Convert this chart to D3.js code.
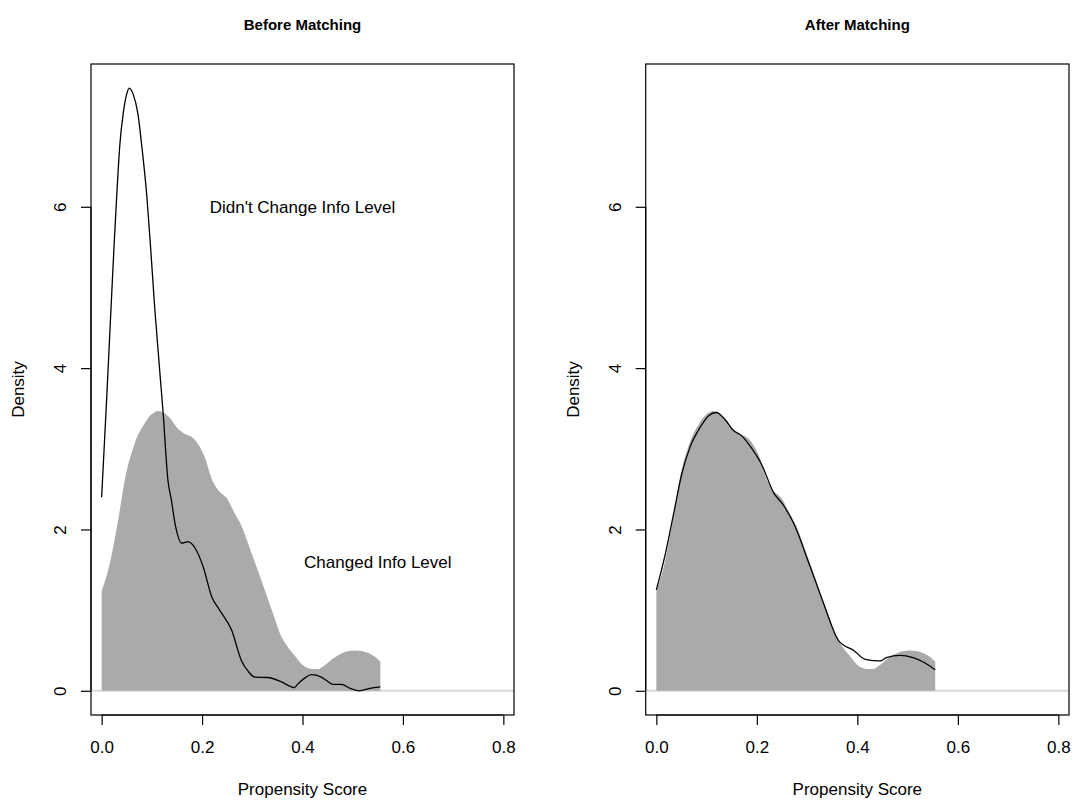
<!DOCTYPE html>
<html>
<head>
<meta charset="utf-8">
<script src="https://cdn.jsdelivr.net/npm/d3@7"></script>
<style>
  body { margin: 0; background: #fff; }
  svg text { font-family: "Liberation Sans", Arial, sans-serif; fill: #000; }
</style>
</head>
<body>
<svg id="chart" width="1075" height="802"></svg>
<script>
// Density of propensity score, treated group (same in both panels)
var treatedDensity = [
  [0.000, 1.23], [0.017, 1.60], [0.033, 2.12], [0.046, 2.61], [0.066, 3.07],
  [0.086, 3.32], [0.100, 3.43], [0.113, 3.47], [0.125, 3.44], [0.139, 3.36],
  [0.150, 3.26], [0.162, 3.20], [0.186, 3.11], [0.205, 2.90], [0.219, 2.63],
  [0.232, 2.49], [0.250, 2.38], [0.265, 2.20], [0.278, 2.05], [0.300, 1.68],
  [0.318, 1.37], [0.340, 0.98], [0.358, 0.67], [0.370, 0.55], [0.384, 0.44],
  [0.404, 0.30], [0.420, 0.27], [0.431, 0.27], [0.445, 0.32], [0.461, 0.40],
  [0.480, 0.47], [0.504, 0.50], [0.520, 0.49], [0.534, 0.46], [0.545, 0.42],
  [0.555, 0.36]
];

// Control group before matching
var controlBefore = [
  [0.000, 2.40], [0.010, 3.62], [0.0185, 4.72], [0.025, 5.55], [0.030, 6.13],
  [0.036, 6.75], [0.043, 7.16], [0.050, 7.40], [0.055, 7.47], [0.063, 7.39],
  [0.072, 7.16], [0.080, 6.75], [0.090, 6.13], [0.098, 5.45], [0.106, 4.72],
  [0.1225, 3.44], [0.132, 2.61], [0.139, 2.36], [0.146, 2.08], [0.160, 1.83],
  [0.166, 1.84], [0.172, 1.85], [0.186, 1.77], [0.202, 1.54], [0.219, 1.17],
  [0.235, 1.00], [0.259, 0.75], [0.278, 0.38], [0.292, 0.24], [0.305, 0.17],
  [0.331, 0.165], [0.358, 0.11], [0.378, 0.05], [0.384, 0.04], [0.390, 0.08],
  [0.405, 0.16], [0.4175, 0.20], [0.4375, 0.17], [0.447, 0.13], [0.4605, 0.08],
  [0.477, 0.08], [0.495, 0.03], [0.5135, 0.00], [0.534, 0.03], [0.555, 0.05]
];

// Control group after matching
var controlAfter = [
  [0.000, 1.25], [0.018, 1.70], [0.0345, 2.20], [0.051, 2.70], [0.0676, 3.03],
  [0.0875, 3.27], [0.104, 3.41], [0.119, 3.45], [0.137, 3.36], [0.153, 3.23],
  [0.170, 3.16], [0.187, 3.03], [0.210, 2.80], [0.233, 2.46], [0.253, 2.30],
  [0.273, 2.08], [0.306, 1.54], [0.333, 1.08], [0.363, 0.62], [0.393, 0.50],
  [0.4155, 0.39], [0.445, 0.37], [0.458, 0.41], [0.485, 0.44], [0.511, 0.41],
  [0.530, 0.36], [0.555, 0.26]
];

var xTicks = [0.0, 0.2, 0.4, 0.6, 0.8];
var yTicks = [0, 2, 4, 6];
var panelTitles = ["Before Matching", "After Matching"];
var xLabel = "Propensity Score";
var yLabel = "Density";
var panelLabels = [
  [{ x: 0.40, y: 6.0, text: "Didn't Change Info Level" },
   { x: 0.55, y: 1.6, text: "Changed Info Level" }],
  []
];

var svg = d3.select("#chart");
var panels = [
  { left: 91, right: 514, control: controlBefore },
  { left: 645.7, right: 1069, control: controlAfter }
];
var plotTop = 64, plotBottom = 715;

panels.forEach(function(p, i) {
  var x = d3.scaleLinear().domain([-0.0212, 0.8212]).range([p.left, p.right]);
  var y = d3.scaleLinear().domain([-0.3, 7.77]).range([plotBottom, plotTop]);
  var g = svg.append("g");

  // zero line
  g.append("line")
    .attr("x1", p.left).attr("x2", p.right)
    .attr("y1", y(0)).attr("y2", y(0))
    .attr("stroke", "#d9d9d9").attr("stroke-width", 2);

  // treated density, filled
  var area = d3.area()
    .x(function(d) { return x(d[0]); })
    .y0(y(0))
    .y1(function(d) { return y(d[1]); })
    .curve(d3.curveMonotoneX);
  g.append("path").datum(treatedDensity)
    .attr("d", area)
    .attr("fill", "#aaaaaa");

  // control density line
  var line = d3.line()
    .x(function(d) { return x(d[0]); })
    .y(function(d) { return y(d[1]); })
    .curve(d3.curveMonotoneX);
  g.append("path").datum(p.control)
    .attr("d", line)
    .attr("fill", "none")
    .attr("stroke", "#000")
    .attr("stroke-width", 1.3);

  // box
  g.append("rect")
    .attr("x", p.left).attr("y", plotTop)
    .attr("width", p.right - p.left).attr("height", plotBottom - plotTop)
    .attr("fill", "none").attr("stroke", "#000").attr("stroke-width", 1.2);

  // x axis
  var xa = g.append("g")
    .attr("transform", "translate(0," + plotBottom + ")")
    .call(d3.axisBottom(x).tickValues(xTicks).tickFormat(d3.format(".1f")).tickSize(10).tickPadding(16));
  xa.select(".domain").attr("d", "M" + x(0) + ",0H" + x(0.8)).attr("stroke-width", 1.2);
  xa.selectAll("line").attr("stroke-width", 1.2);
  xa.selectAll("text").style("font-size", "17px");

  // y axis
  var ya = g.append("g")
    .attr("transform", "translate(" + p.left + ",0)")
    .call(d3.axisLeft(y).tickValues(yTicks).tickSize(10));
  ya.select(".domain").attr("d", "M0," + y(0) + "V" + y(6)).attr("stroke-width", 1.2);
  ya.selectAll("line").attr("stroke-width", 1.2);
  ya.selectAll("text")
    .attr("x", null).attr("dy", null)
    .attr("transform", "translate(-25,0) rotate(-90)")
    .attr("text-anchor", "middle")
    .style("font-size", "17px");

  // titles and labels
  var cx = (p.left + p.right) / 2;
  g.append("text")
    .attr("x", cx).attr("y", 30)
    .attr("text-anchor", "middle")
    .style("font-size", "15px").style("font-weight", "bold")
    .text(panelTitles[i]);
  g.append("text")
    .attr("x", x(0.4)).attr("y", 795)
    .attr("text-anchor", "middle")
    .style("font-size", "17px")
    .text(xLabel);
  g.append("text")
    .attr("transform", "translate(" + (p.left - 67) + "," + ((plotTop + plotBottom) / 2) + ") rotate(-90)")
    .attr("text-anchor", "middle")
    .style("font-size", "17px")
    .text(yLabel);

  panelLabels[i].forEach(function(l) {
    g.append("text")
      .attr("x", x(l.x)).attr("y", y(l.y))
      .attr("dy", "0.35em")
      .attr("text-anchor", "middle")
      .style("font-size", "17px")
      .text(l.text);
  });
});
</script>
</body>
</html>
